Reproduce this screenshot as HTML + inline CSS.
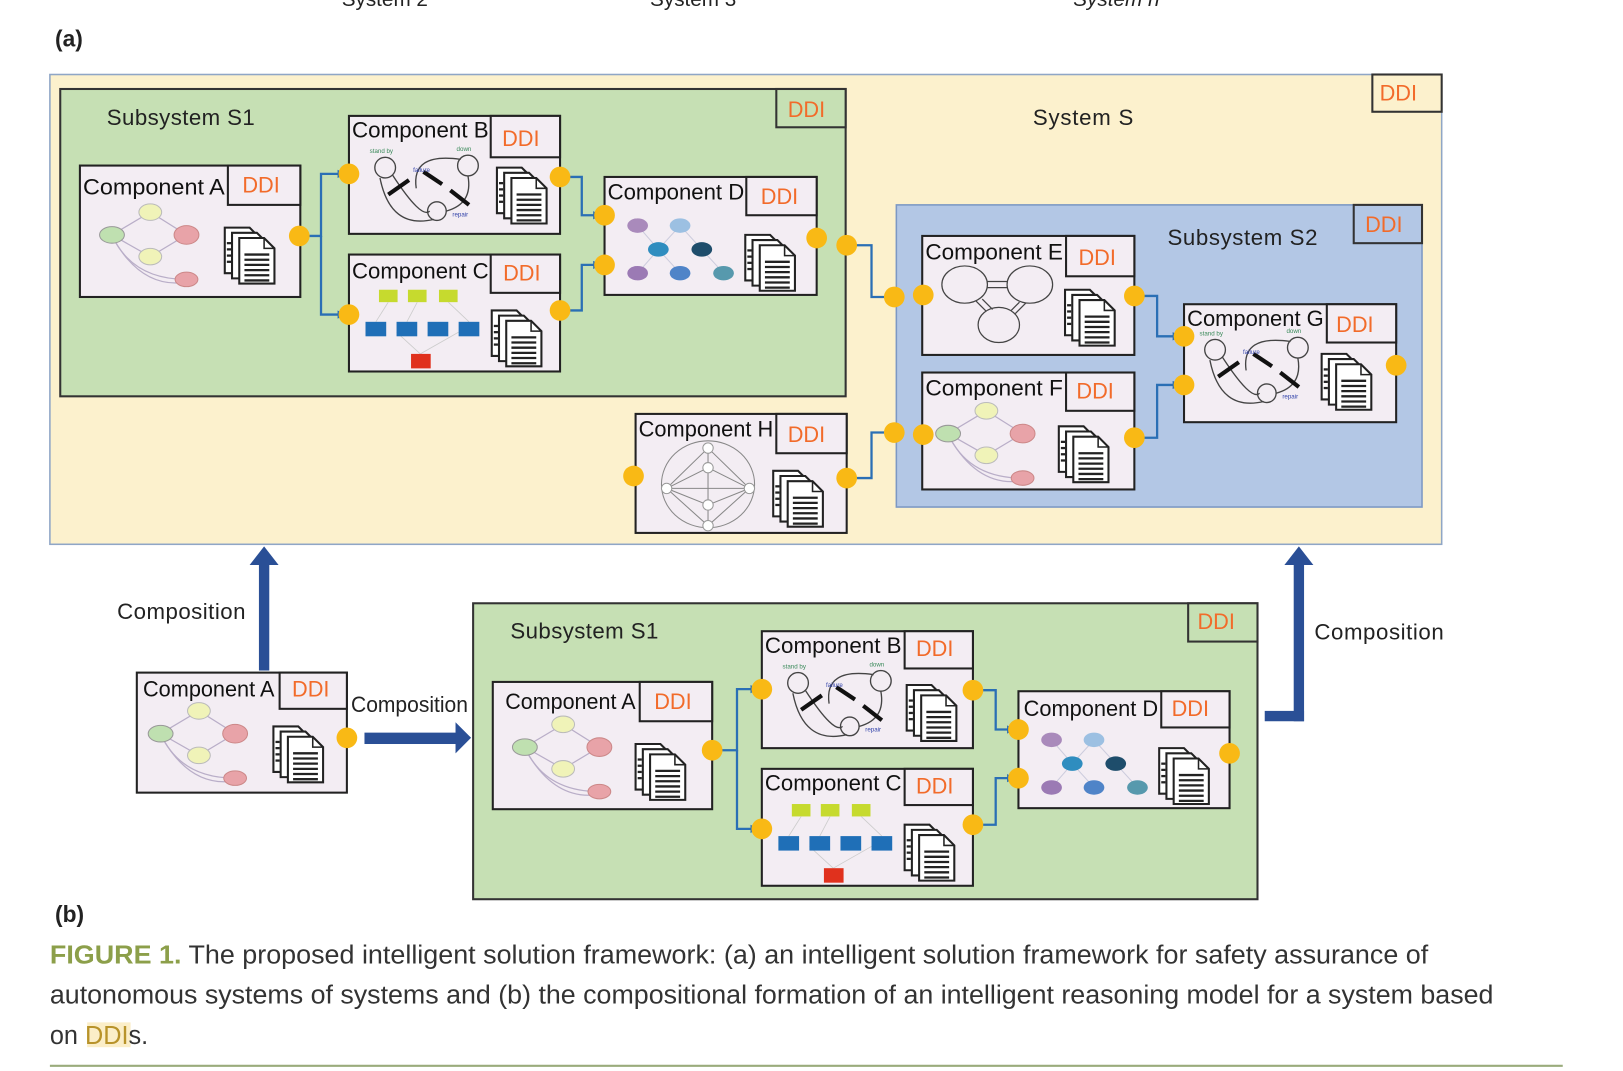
<!DOCTYPE html>
<html><head><meta charset="utf-8"><style>
html,body{margin:0;padding:0;background:#fff;width:1623px;height:1071px;overflow:hidden}
svg{display:block}
text{font-family:"Liberation Sans",Arial,sans-serif}
.t{font-size:21px;fill:#111}
.d{font-size:21px;fill:#f26b2a}
.l{font-size:21.5px;fill:#222}
</style></head><body>
<svg width="1623" height="1071" viewBox="0 0 1568 1035" xmlns="http://www.w3.org/2000/svg">
<defs>
<g id="doc">
  <path d="M0,0 h24 l10,10 v34 h-34 z" fill="#fff" stroke="#222" stroke-width="2"/>
  <path d="M7,5 h24 l10,10 v34 h-34 z" fill="#fff" stroke="#222" stroke-width="2"/>
  <path d="M14,10 h24 l10,10 v34 h-34 z" fill="#fff" stroke="#222" stroke-width="2"/>
  <path d="M38,10 v10 h10" fill="none" stroke="#222" stroke-width="1.5"/>
  <g stroke="#222" stroke-width="2.2">
    <line x1="19" y1="26" x2="43" y2="26"/><line x1="19" y1="31" x2="43" y2="31"/>
    <line x1="19" y1="36" x2="43" y2="36"/><line x1="19" y1="41" x2="43" y2="41"/>
    <line x1="19" y1="46" x2="43" y2="46"/><line x1="19" y1="51" x2="43" y2="51"/>
    <line x1="2" y1="15" x2="6" y2="15"/><line x1="2" y1="21" x2="6" y2="21"/><line x1="2" y1="27" x2="6" y2="27"/><line x1="2" y1="33" x2="6" y2="33"/>
  </g>
</g>
<g id="gA">
  <g fill="none" stroke="#b9aec8" stroke-width="1.2">
    <path d="M68,45 L31,67 L68,88 L103,67 Z"/><path d="M31,67 Q50,110 103,110"/><path d="M33,72 Q60,118 100,113"/>
  </g>
  <ellipse cx="68" cy="45" rx="11" ry="8" fill="#f0f3b8" stroke="#bbb"/>
  <ellipse cx="31" cy="67" rx="12" ry="8" fill="#bfe0b0" stroke="#999"/>
  <ellipse cx="103" cy="67" rx="12" ry="9" fill="#e8a3a8" stroke="#c88"/>
  <ellipse cx="68" cy="88" rx="11" ry="8" fill="#f0f3b8" stroke="#bbb"/>
  <ellipse cx="103" cy="110" rx="11" ry="7" fill="#e8a3a8" stroke="#c88"/>
</g>
<g id="gB">
  <g fill="none" stroke="#444" stroke-width="1.3">
    <circle cx="35" cy="50" r="10"/><circle cx="115" cy="48" r="10"/><circle cx="85" cy="92" r="9"/>
    <path d="M42,57 Q70,100 78,92"/><path d="M65,70 Q60,35 108,42"/><path d="M115,58 Q120,85 94,92"/><path d="M30,60 Q40,110 82,100"/>
  </g>
  <g stroke="#111" stroke-width="4"><line x1="38" y1="76" x2="58" y2="62"/><line x1="72" y1="54" x2="90" y2="66"/><line x1="98" y1="72" x2="116" y2="86"/></g>
  <text x="20" y="36" font-size="6" fill="#3a8a5a">stand by</text><text x="104" y="34" font-size="6" fill="#3a8a5a">down</text>
  <text x="62" y="54" font-size="6" fill="#3344aa">failure</text><text x="100" y="97" font-size="6" fill="#3344aa">repair</text>
</g>
<g id="gC">
  <g fill="#c6da2e"><rect x="29" y="34" width="18" height="12"/><rect x="57" y="34" width="18" height="12"/><rect x="87" y="34" width="18" height="12"/></g>
  <g stroke="#ccc" stroke-width="0.8"><line x1="38" y1="46" x2="26" y2="65"/><line x1="66" y1="46" x2="56" y2="65"/><line x1="96" y1="46" x2="116" y2="65"/><line x1="46" y1="75" x2="69" y2="96"/><line x1="106" y1="75" x2="69" y2="96"/></g>
  <g fill="#1f6fb7"><rect x="16" y="65" width="20" height="14"/><rect x="46" y="65" width="20" height="14"/><rect x="76" y="65" width="20" height="14"/><rect x="106" y="65" width="20" height="14"/></g>
  <rect x="60" y="96" width="19" height="14" fill="#e0311d"/>
</g>
<g id="gD">
  <g stroke="#ccd" stroke-width="1"><line x1="32" y1="47" x2="52" y2="70"/><line x1="73" y1="47" x2="52" y2="70"/><line x1="73" y1="47" x2="94" y2="70"/><line x1="52" y1="70" x2="32" y2="93"/><line x1="52" y1="70" x2="73" y2="93"/><line x1="94" y1="70" x2="115" y2="93"/></g>
  <ellipse cx="32" cy="47" rx="10" ry="7" fill="#a98abb"/><ellipse cx="73" cy="47" rx="10" ry="7" fill="#9cc0e2"/>
  <ellipse cx="52" cy="70" rx="10" ry="7" fill="#2f8dbf"/><ellipse cx="94" cy="70" rx="10" ry="7" fill="#1e4d6b"/>
  <ellipse cx="32" cy="93" rx="10" ry="7" fill="#9b7ab4"/><ellipse cx="73" cy="93" rx="10" ry="7" fill="#4f84c8"/><ellipse cx="115" cy="93" rx="10" ry="7" fill="#5799ad"/>
</g>
<g id="gE">
  <g fill="none" stroke="#444" stroke-width="1.2">
    <ellipse cx="41" cy="47" rx="22" ry="18"/><ellipse cx="104" cy="47" rx="22" ry="18"/><ellipse cx="74" cy="86" rx="20" ry="17"/>
    <line x1="63" y1="44" x2="82" y2="44"/><line x1="63" y1="50" x2="82" y2="50"/><line x1="52" y1="63" x2="62" y2="73"/><line x1="58" y1="61" x2="68" y2="71"/><line x1="94" y1="64" x2="86" y2="72"/><line x1="100" y1="65" x2="90" y2="75"/>
  </g>
</g>
<g id="gH">
  <g fill="none" stroke="#888" stroke-width="1">
    <ellipse cx="70" cy="68" rx="45" ry="42"/>
    <path d="M30,72 L70,33 L110,72 L70,52 L30,72 L70,88 L110,72 L70,108 L30,72"/><line x1="30" y1="72" x2="110" y2="72"/><line x1="70" y1="33" x2="70" y2="108"/>
  </g>
  <g fill="#fff" stroke="#999"><circle cx="30" cy="72" r="5"/><circle cx="110" cy="72" r="5"/><circle cx="70" cy="33" r="5"/><circle cx="70" cy="52" r="5"/><circle cx="70" cy="88" r="5"/><circle cx="70" cy="108" r="5"/></g>
</g>
<marker id="ah" markerWidth="8" markerHeight="8" refX="7" refY="4" orient="auto" markerUnits="userSpaceOnUse"><path d="M0,0 L8,4 L0,8 z" fill="#2a6fb5"/></marker>
</defs>

<text x="330" y="6" font-size="20" fill="#222">System 2</text>
<text x="628" y="6" font-size="20" fill="#222">System 3</text>
<text x="1037" y="6" font-size="20" fill="#222" font-style="italic">System n</text>
<text x="53" y="45" font-size="22" font-weight="bold" fill="#222">(a)</text>

<rect x="48" y="72" width="1345" height="454" fill="#fcf1cd" stroke="#8fa6c6" stroke-width="1.5"/>
<rect x="1326" y="72" width="67" height="36" fill="#fcf1cd" stroke="#333" stroke-width="2"/>
<text x="1333" y="97" class="d">DDI</text>
<text x="998" y="121" class="l" textLength="97">System S</text>

<rect x="58" y="86" width="759" height="297" fill="#c6e0b4" stroke="#333" stroke-width="2"/>
<rect x="750" y="86" width="67" height="37" fill="#c6e0b4" stroke="#333" stroke-width="2"/>
<text x="761" y="113" class="d">DDI</text>
<text x="103" y="121" class="l" textLength="143">Subsystem S1</text>

<rect x="866" y="198" width="508" height="292" fill="#b3c7e5" stroke="#7c98c4" stroke-width="1.5"/>
<rect x="1308" y="198" width="66" height="37" fill="#b3c7e5" stroke="#333" stroke-width="2"/>
<text x="1319" y="224" class="d">DDI</text>
<text x="1128" y="237" class="l" textLength="145">Subsystem S2</text>

<g transform="translate(77,160)"><rect width="213" height="127" fill="#f3edf3" stroke="#222" stroke-width="2"/><rect x="143" width="70" height="38" fill="#f3edf3" stroke="#222" stroke-width="2"/><text x="3" y="28" class="t" textLength="137" lengthAdjust="spacingAndGlyphs">Component A</text><text x="157" y="26" class="d">DDI</text><use href="#gA"/><use href="#doc" x="140" y="60"/></g>
<g transform="translate(337,112)"><rect width="204" height="114" fill="#f3edf3" stroke="#222" stroke-width="2"/><rect x="137" width="67" height="40" fill="#f3edf3" stroke="#222" stroke-width="2"/><text x="3" y="21" class="t" textLength="132" lengthAdjust="spacingAndGlyphs">Component B</text><text x="148" y="29" class="d">DDI</text><use href="#gB"/><use href="#doc" x="143" y="50"/></g>
<g transform="translate(337,246)"><rect width="204" height="113" fill="#f3edf3" stroke="#222" stroke-width="2"/><rect x="137" width="67" height="37" fill="#f3edf3" stroke="#222" stroke-width="2"/><text x="3" y="23" class="t" textLength="132" lengthAdjust="spacingAndGlyphs">Component C</text><text x="149" y="25" class="d">DDI</text><use href="#gC"/><use href="#doc" x="138" y="54"/></g>
<g transform="translate(584,171)"><rect width="205" height="114" fill="#f3edf3" stroke="#222" stroke-width="2"/><rect x="137" width="68" height="37" fill="#f3edf3" stroke="#222" stroke-width="2"/><text x="3" y="22" class="t" textLength="132" lengthAdjust="spacingAndGlyphs">Component D</text><text x="151" y="26" class="d">DDI</text><use href="#gD"/><use href="#doc" x="136" y="56"/></g>
<g transform="translate(891,228)"><rect width="205" height="115" fill="#f3edf3" stroke="#222" stroke-width="2"/><rect x="139" width="66" height="39" fill="#f3edf3" stroke="#222" stroke-width="2"/><text x="3" y="23" class="t" textLength="133" lengthAdjust="spacingAndGlyphs">Component E</text><text x="151" y="28" class="d">DDI</text><use href="#gE"/><use href="#doc" x="138" y="52"/></g>
<g transform="translate(891,360)"><rect width="205" height="113" fill="#f3edf3" stroke="#222" stroke-width="2"/><rect x="139" width="66" height="37" fill="#f3edf3" stroke="#222" stroke-width="2"/><text x="3" y="22" class="t" textLength="133" lengthAdjust="spacingAndGlyphs">Component F</text><text x="149" y="25" class="d">DDI</text><use href="#gA" transform="translate(-6,-8)"/><use href="#doc" x="132" y="52"/></g>
<g transform="translate(1144,294)"><rect width="205" height="114" fill="#f3edf3" stroke="#222" stroke-width="2"/><rect x="138" width="67" height="37" fill="#f3edf3" stroke="#222" stroke-width="2"/><text x="3" y="21" class="t" textLength="132" lengthAdjust="spacingAndGlyphs">Component G</text><text x="147" y="27" class="d">DDI</text><use href="#gB" transform="translate(-5,-6)"/><use href="#doc" x="133" y="48"/></g>
<g transform="translate(614,400)"><rect width="204" height="115" fill="#f3edf3" stroke="#222" stroke-width="2"/><rect x="136" width="68" height="38" fill="#f3edf3" stroke="#222" stroke-width="2"/><text x="3" y="22" class="t" textLength="130" lengthAdjust="spacingAndGlyphs">Component H</text><text x="147" y="27" class="d">DDI</text><use href="#gH"/><use href="#doc" x="133" y="55"/></g>

<g fill="none" stroke="#2a6fb5" stroke-width="2.2" marker-end="url(#ah)">
<path d="M289,228 H310 V168 H333"/><path d="M310,228 V304 H333"/>
<path d="M541,171 H562 V208 H580"/><path d="M541,300 H562 V256 H580"/>
<path d="M818,237 H842 V287 H862"/><path d="M818,462 H842 V418 H862"/>
<path d="M1096,286 H1118 V325 H1140"/><path d="M1096,423 H1118 V372 H1140"/>
</g>
<g fill="#f9b915">
<circle cx="289" cy="228" r="10"/><circle cx="337" cy="168" r="10"/><circle cx="337" cy="304" r="10"/>
<circle cx="541" cy="171" r="10"/><circle cx="541" cy="300" r="10"/><circle cx="584" cy="208" r="10"/><circle cx="584" cy="256" r="10"/>
<circle cx="789" cy="230" r="10"/><circle cx="818" cy="237" r="10"/><circle cx="864" cy="287" r="10"/><circle cx="892" cy="285" r="10"/>
<circle cx="864" cy="418" r="10"/><circle cx="892" cy="420" r="10"/><circle cx="612" cy="460" r="10"/><circle cx="818" cy="462" r="10"/>
<circle cx="1096" cy="286" r="10"/><circle cx="1096" cy="423" r="10"/><circle cx="1144" cy="325" r="10"/><circle cx="1144" cy="372" r="10"/><circle cx="1349" cy="353" r="10"/>
</g>

<g fill="#2a4f96">
<rect x="250" y="544" width="10" height="104"/><path d="M241,546 L255,528 L269,546 Z"/>
<rect x="352" y="708" width="90" height="11"/><path d="M440,698 L455,713 L440,728 Z"/>
<rect x="1222" y="687" width="38" height="10"/><rect x="1250" y="544" width="10" height="153"/><path d="M1241,546 L1255,528 L1269,546 Z"/>
</g>
<text x="113" y="598" class="l" textLength="124">Composition</text>
<text x="339" y="688" class="l" textLength="113" lengthAdjust="spacingAndGlyphs">Composition</text>
<text x="1270" y="618" class="l" textLength="125">Composition</text>

<g transform="translate(132,650)"><rect width="203" height="116" fill="#f3edf3" stroke="#222" stroke-width="2"/><rect x="138" width="65" height="35" fill="#f3edf3" stroke="#222" stroke-width="2"/><text x="6" y="23" class="t" textLength="127" lengthAdjust="spacingAndGlyphs">Component A</text><text x="150" y="23" class="d">DDI</text><use href="#gA" transform="translate(-8,-8)"/><use href="#doc" x="132" y="52"/></g>

<rect x="457" y="583" width="758" height="286" fill="#c6e0b4" stroke="#333" stroke-width="2"/>
<rect x="1148" y="583" width="67" height="37" fill="#c6e0b4" stroke="#333" stroke-width="2"/>
<text x="1157" y="608" class="d">DDI</text>
<text x="493" y="617" class="l" textLength="143">Subsystem S1</text>

<g transform="translate(476,659)"><rect width="212" height="123" fill="#f3edf3" stroke="#222" stroke-width="2"/><rect x="142" width="70" height="38" fill="#f3edf3" stroke="#222" stroke-width="2"/><text x="12" y="26" class="t" textLength="126" lengthAdjust="spacingAndGlyphs">Component A</text><text x="156" y="26" class="d">DDI</text><use href="#gA" transform="translate(0,-4)"/><use href="#doc" x="138" y="60"/></g>
<g transform="translate(736,610)"><rect width="204" height="113" fill="#f3edf3" stroke="#222" stroke-width="2"/><rect x="138" width="66" height="36" fill="#f3edf3" stroke="#222" stroke-width="2"/><text x="3" y="21" class="t" textLength="132" lengthAdjust="spacingAndGlyphs">Component B</text><text x="149" y="24" class="d">DDI</text><use href="#gB"/><use href="#doc" x="140" y="52"/></g>
<g transform="translate(736,743)"><rect width="204" height="113" fill="#f3edf3" stroke="#222" stroke-width="2"/><rect x="138" width="66" height="35" fill="#f3edf3" stroke="#222" stroke-width="2"/><text x="3" y="21" class="t" textLength="132" lengthAdjust="spacingAndGlyphs">Component C</text><text x="149" y="24" class="d">DDI</text><use href="#gC"/><use href="#doc" x="138" y="54"/></g>
<g transform="translate(984,668)"><rect width="204" height="113" fill="#f3edf3" stroke="#222" stroke-width="2"/><rect x="138" width="66" height="35" fill="#f3edf3" stroke="#222" stroke-width="2"/><text x="5" y="24" class="t" textLength="130" lengthAdjust="spacingAndGlyphs">Component D</text><text x="148" y="24" class="d">DDI</text><use href="#gD"/><use href="#doc" x="136" y="55"/></g>

<g fill="none" stroke="#2a6fb5" stroke-width="2.2" marker-end="url(#ah)">
<path d="M688,725 H712 V666 H732"/><path d="M712,725 V801 H732"/>
<path d="M940,667 H962 V705 H980"/><path d="M940,797 H962 V752 H980"/>
</g>
<g fill="#f9b915">
<circle cx="335" cy="713" r="10"/><circle cx="688" cy="725" r="10"/><circle cx="736" cy="666" r="10"/><circle cx="736" cy="801" r="10"/>
<circle cx="940" cy="667" r="10"/><circle cx="940" cy="797" r="10"/><circle cx="984" cy="705" r="10"/><circle cx="984" cy="752" r="10"/><circle cx="1188" cy="728" r="10"/>
</g>

<text x="53" y="891" font-size="22" font-weight="bold" fill="#222">(b)</text>

<text x="48" y="931" font-size="25" fill="#333" textLength="1332" lengthAdjust="spacingAndGlyphs"><tspan fill="#8c9f4a" font-weight="bold">FIGURE 1.</tspan> The proposed intelligent solution framework: (a) an intelligent solution framework for safety assurance of</text>
<text x="48" y="970" font-size="25" fill="#333" textLength="1395" lengthAdjust="spacingAndGlyphs">autonomous systems of systems and (b) the compositional formation of an intelligent reasoning model for a system based</text>
<rect x="84" y="988" width="42" height="24" fill="#fbeec8"/>
<text x="48" y="1009" font-size="25" fill="#333" textLength="95" lengthAdjust="spacingAndGlyphs">on <tspan fill="#b8932a">DDI</tspan>s.</text>
<line x1="48" y1="1030" x2="1510" y2="1030" stroke="#9aab7c" stroke-width="2"/>
</svg>
</body></html>
